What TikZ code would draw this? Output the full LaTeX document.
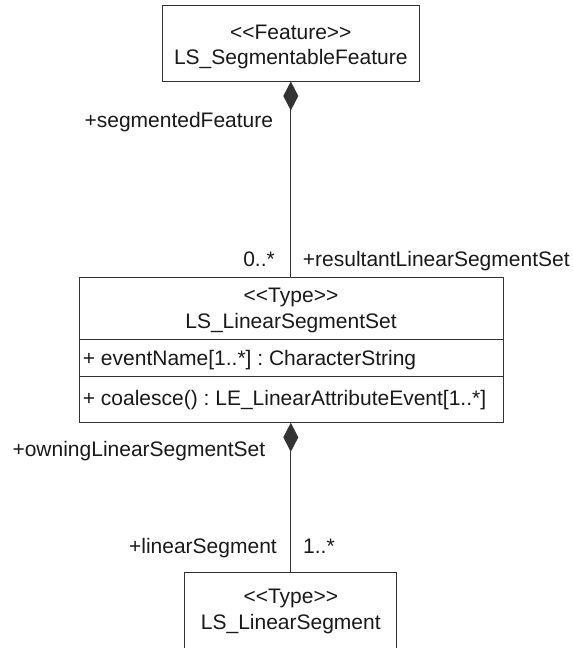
\documentclass[tikz,border=0pt]{standalone}
\usepackage{fontspec}
\setmainfont{Liberation Sans}
\usetikzlibrary{arrows.meta}
\newcommand\stereo[1]{<\kern0pt<#1>\kern0pt>}
\frenchspacing
\begin{document}
\begin{tikzpicture}[x=1pt,y=-1pt,
  box/.style={draw=black!80,line width=1pt,inner sep=0pt},
  txt/.style={inner sep=0pt,anchor=base,font=\fontsize{21}{26}\selectfont,text=black!90},
  lbl/.style={txt,anchor=base east},
  lblr/.style={txt,anchor=base west},
  conn/.style={draw=black!80,line width=1pt},
  comp/.style={{Diamond[length=29pt,width=15pt]}-}]
\clip (0,0) rectangle (573,648);
% top class
\node[box,minimum width=257pt,minimum height=75.3pt] (feat) at (290.8,43.35) {};
\node[txt] (featst) at (290.8,39.3) {\stereo{Feature}};
\node[txt] (featnm) at (290.8,64.3) {LS\_SegmentableFeature};
% middle class
\node[box,minimum width=424pt,minimum height=144.6pt] (set) at (291,350) {};
\node[txt] (setst) at (291,302.7) {\stereo{Type}};
\node[txt] (setnm) at (291,328.7) {LS\_LinearSegmentSet};
\coordinate (s1) at (291,339);
\coordinate (s2) at (291,376.7);
\draw[conn] (set.west |- s1) -- (set.east |- s1);
\draw[conn] (set.west |- s2) -- (set.east |- s2);
\node[txt,anchor=base west] (attr) at (82.7,365) {+ eventName[1..*] : CharacterString};
\node[txt,anchor=base west] (oper) at (82.7,405.7) {+ coalesce() : LE\_LinearAttributeEvent[1..*]};
% bottom class
\node[box,minimum width=211.7pt,minimum height=100pt] (seg) at (290.8,622.7) {};
\node[txt] (segst) at (290.8,603.3) {\stereo{Type}};
\node[txt] (segnm) at (290.8,629.3) {LS\_LinearSegment};
% connectors
\draw[conn,comp] (feat.south) -- (feat.south |- set.north);
\draw[conn,comp] (set.south -| feat.south) -- (seg.north);
% role labels
\node[lbl] (r1) at (273.3,127) {+segmentedFeature};
\node[lbl] (m1) at (275,266.7) {0..*};
\node[lblr] (r2) at (302.7,266.7) {+resultantLinearSegmentSet};
\node[lbl] (r3) at (265.5,456.7) {+owningLinearSegmentSet};
\node[lbl] (r4) at (277,553) {+linearSegment};
\node[lblr] (m2) at (303,553) {1..*};
\end{tikzpicture}
\end{document}
